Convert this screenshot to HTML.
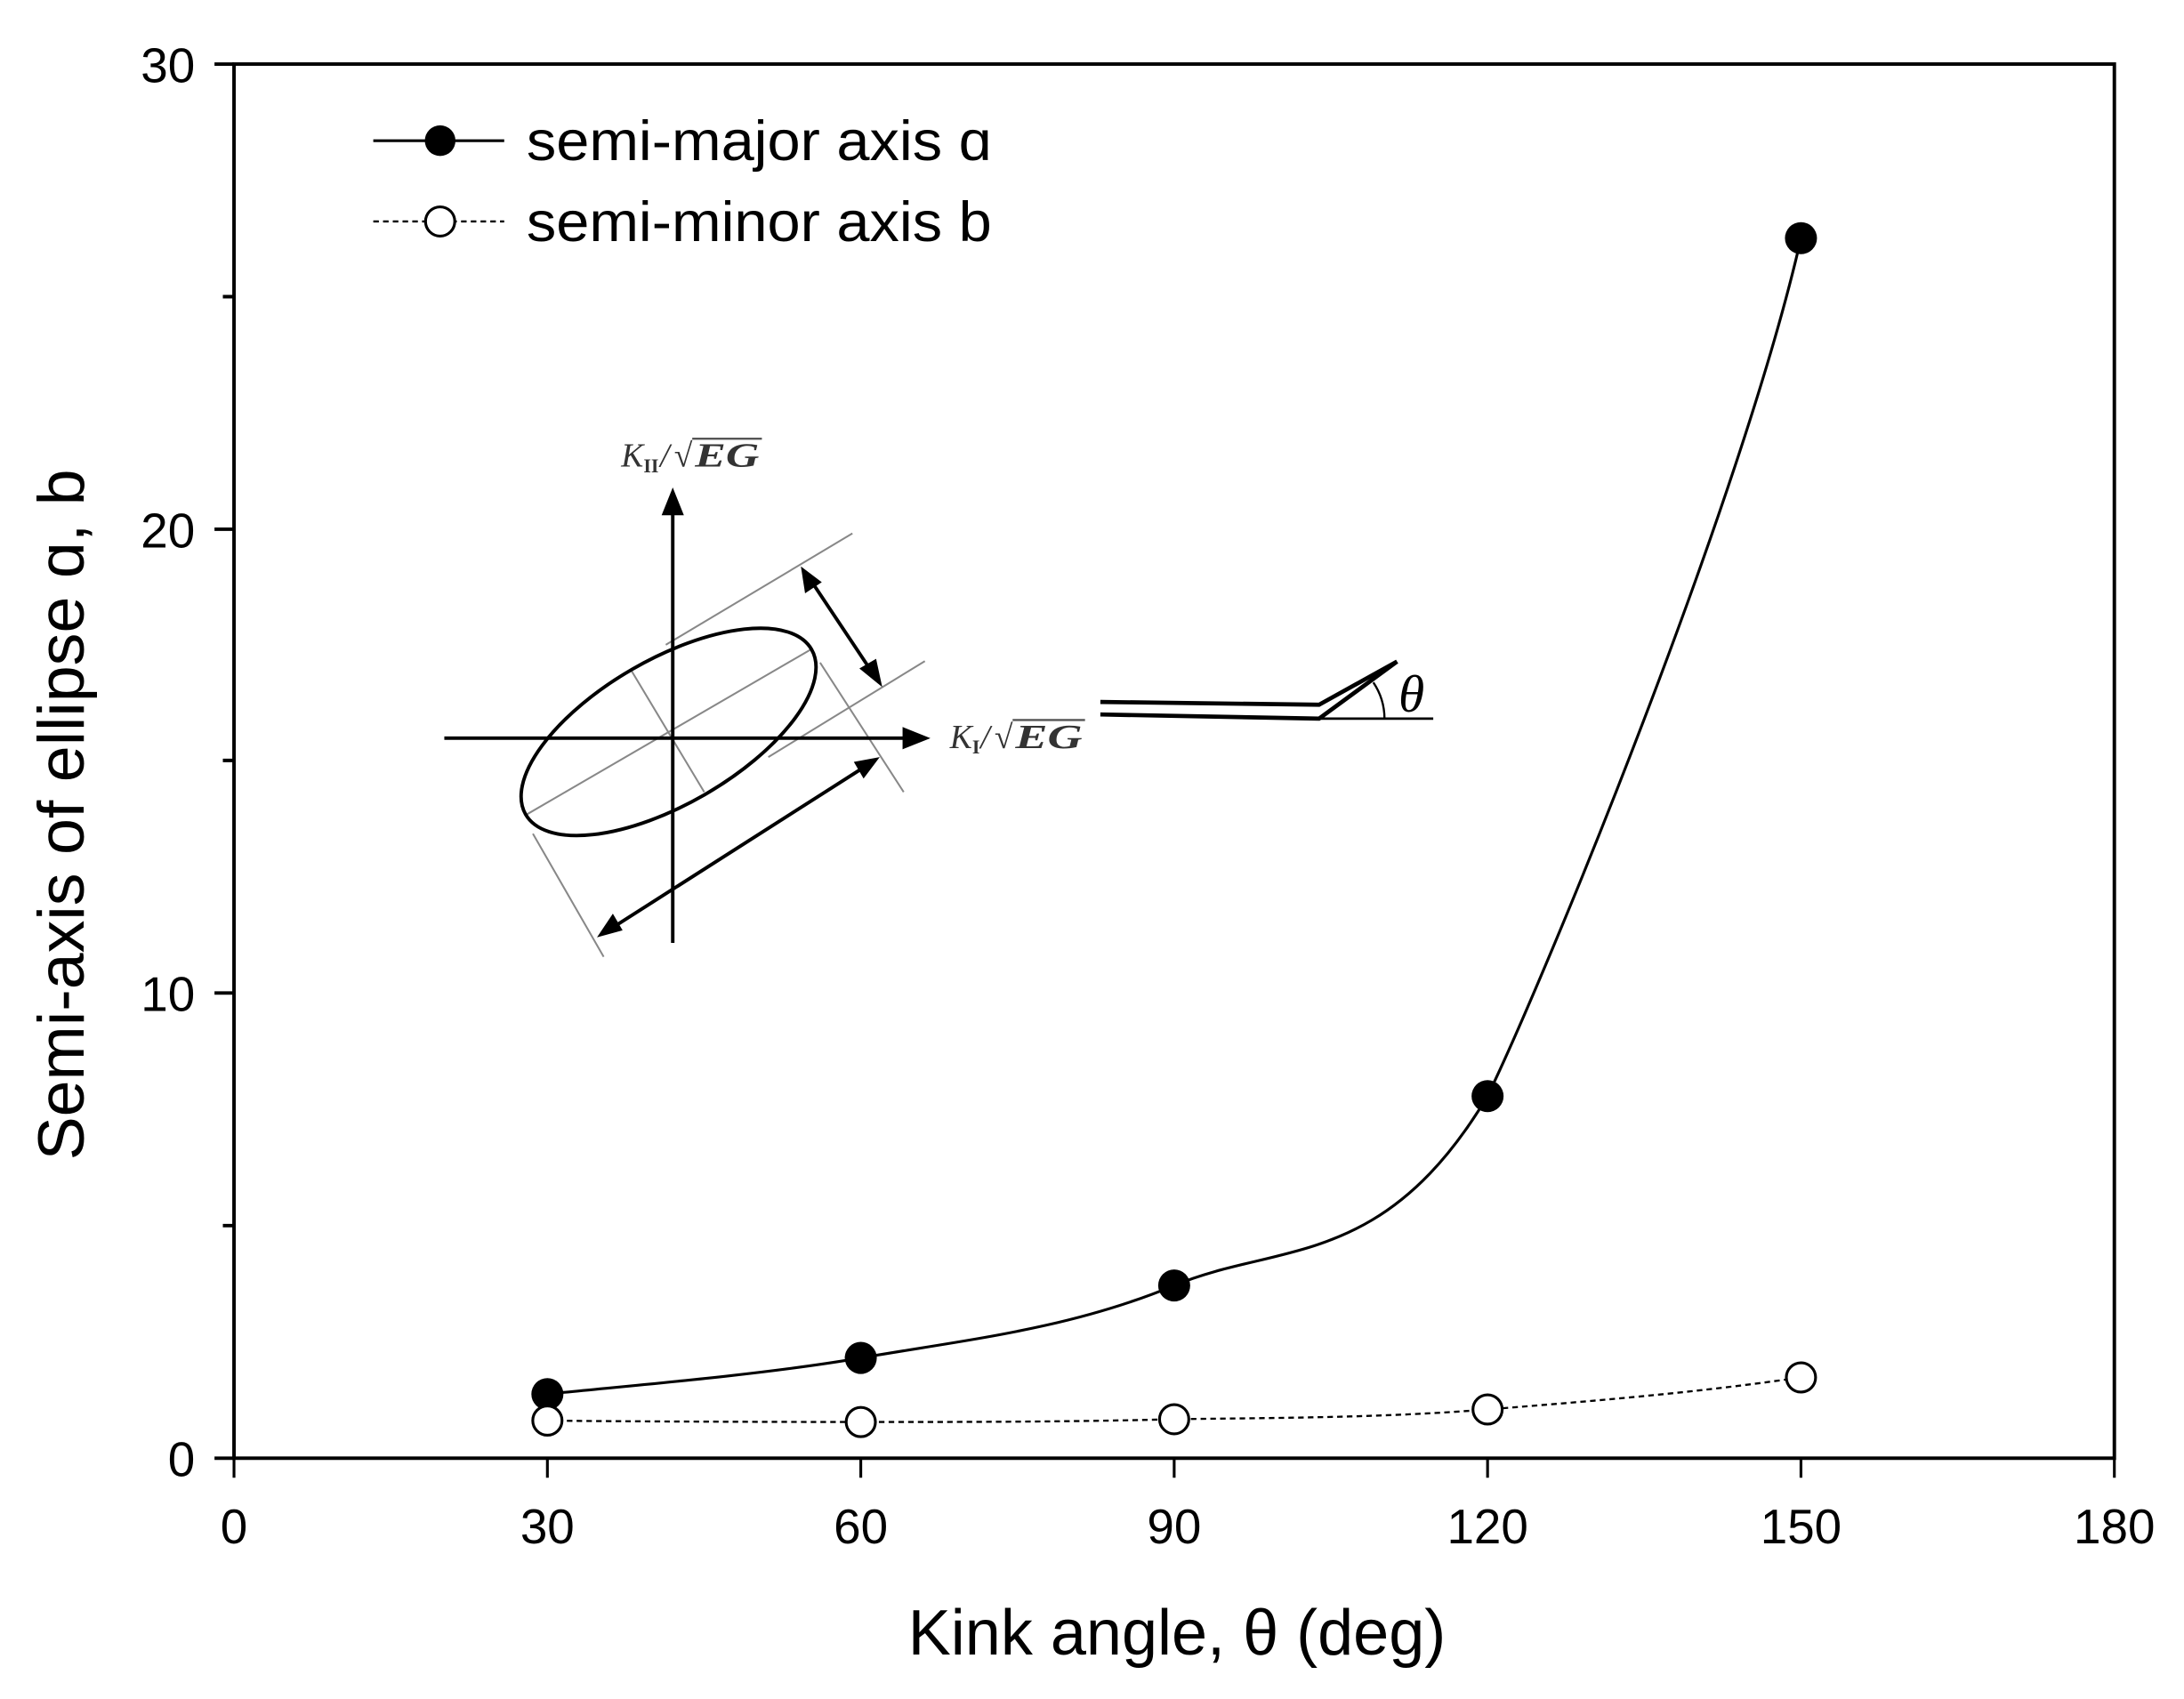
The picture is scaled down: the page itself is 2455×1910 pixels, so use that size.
<!DOCTYPE html>
<html><head><meta charset="utf-8"><style>html,body{margin:0;padding:0;background:#fff}svg{display:block}</style></head>
<body>
<svg width="2455" height="1910" viewBox="0 0 1568 1219.9" preserveAspectRatio="none" xmlns="http://www.w3.org/2000/svg" font-family="Liberation Sans, sans-serif">
<rect width="1568" height="1220" fill="#fff"/>
<g stroke="#000" fill="none">
<rect x="168" y="46" width="1350" height="1001" stroke-width="2.5"/>
<path d="M168 1047h-14M168 713h-14M168 380h-14M168 46h-14M168 880h-8M168 546h-8M168 213h-8" stroke-width="2.5"/>
<path d="M168 1047v14M393 1047v14M618 1047v14M843 1047v14M1068 1047v14M1293 1047v14M1518 1047v14" stroke-width="2"/>
</g>
<g font-size="35" text-anchor="end">
<text x="140" y="1060">0</text><text x="140" y="726">10</text><text x="140" y="393">20</text><text x="140" y="59">30</text>
</g>
<g font-size="35" text-anchor="middle">
<text x="168" y="1108">0</text><text x="393" y="1108">30</text><text x="618" y="1108">60</text><text x="843" y="1108">90</text><text x="1068" y="1108">120</text><text x="1293" y="1108">150</text><text x="1518" y="1108">180</text>
</g>
<text x="845" y="1188" font-size="46" text-anchor="middle">Kink angle, θ (deg)</text>
<text transform="translate(60,585) rotate(-90)" font-size="47" text-anchor="middle">Semi-axis of ellipse ɑ, b</text>
<path d="M268 101H362" stroke="#000" stroke-width="2"/>
<circle cx="316" cy="101" r="11" fill="#000"/>
<text x="378" y="115" font-size="40" textLength="334" lengthAdjust="spacingAndGlyphs">semi-major axis ɑ</text>
<path d="M268 159H362" stroke="#000" stroke-width="1.5" stroke-dasharray="4 3"/>
<circle cx="316" cy="159" r="10.5" fill="#fff" stroke="#000" stroke-width="2"/>
<text x="378" y="173" font-size="40" textLength="334" lengthAdjust="spacingAndGlyphs">semi-minor axis b</text>
<path d="M393 1001C430.5 996.7 543 988 618 975C693 962 768 954.3 843 923C918 891.7 993 912.3 1068 787C1110 700 1250 360 1293 171" fill="none" stroke="#000" stroke-width="2"/>
<path d="M393 1020C430 1020.5 543 1021 618 1021C693 1021 768 1021 843 1019C918 1018 993 1018 1068 1012C1143 1006 1218 1000 1293 989" fill="none" stroke="#000" stroke-width="1.5" stroke-dasharray="4 3"/>
<g fill="#000">
<circle cx="393" cy="1001" r="11.5"/><circle cx="618" cy="975" r="11.5"/><circle cx="843" cy="923" r="11.5"/><circle cx="1068" cy="787" r="11.5"/><circle cx="1293" cy="171" r="11.5"/>
</g>
<g fill="#fff" stroke="#000" stroke-width="2">
<circle cx="393" cy="1020" r="10.5"/><circle cx="618" cy="1021" r="10.5"/><circle cx="843" cy="1019" r="10.5"/><circle cx="1068" cy="1012" r="10.5"/><circle cx="1293" cy="989" r="10.5"/>
</g>
<g stroke="#888" stroke-width="1.3" fill="none">
<path d="M377.8 585L582.7 466"/>
<path d="M453 481L505.6 568.7"/>
<path d="M478 463L612 383"/>
<path d="M551.6 543.6L664 474.7"/>
<path d="M382.6 598.6L433.4 687"/>
<path d="M588.8 475.8L648.8 568.7"/>
</g>
<ellipse cx="480" cy="525.5" rx="118.5" ry="52" transform="rotate(-30 480 525.5)" fill="none" stroke="#000" stroke-width="2.5"/>
<g stroke="#000" stroke-width="2.5">
<path d="M483 677V368"/><path d="M319 530H650"/>
<path d="M585 421L623 478"/><path d="M443 664L617 553"/>
</g>
<g fill="#000">
<path d="M483 350L475 370H491Z"/>
<path d="M668 530L648 522V538Z"/>
<path d="M575 406.7L578 426L590 418Z"/>
<path d="M633.4 493.3L617 480L629 473Z"/>
<path d="M428.6 673L440 656L447 668Z"/>
<path d="M631.6 543.6L613 547L620 559Z"/>
</g>
<g font-family="Liberation Serif, serif" font-style="italic" fill="#333" font-size="24">
<text x="446" y="335">K</text><text x="462" y="339" font-size="14" font-style="normal" font-weight="bold">II</text><text x="474" y="335">/</text><text x="484" y="335" font-style="normal">√</text><text x="499" y="335" textLength="46" lengthAdjust="spacingAndGlyphs" font-weight="bold">EG</text>
<text x="682" y="537">K</text><text x="698" y="541" font-size="14" font-style="normal" font-weight="bold">I</text><text x="704" y="537">/</text><text x="714" y="537" font-style="normal">√</text><text x="729" y="537" textLength="48" lengthAdjust="spacingAndGlyphs" font-weight="bold">EG</text>
</g>
<path d="M497 315H547M727 517H779" stroke="#555" stroke-width="1.5"/>
<g stroke="#000" stroke-width="3" fill="none">
<path d="M790 504L947 506L1003 475"/>
<path d="M790 513L947 516L1003 475"/>
</g>
<path d="M947 516H1029" stroke="#000" stroke-width="1.8"/>
<path d="M994 516A47 47 0 0 0 986 490" stroke="#000" stroke-width="1.5" fill="none"/>
<text x="1004" y="511" font-family="Liberation Serif, serif" font-style="italic" font-size="38">θ</text>
</svg>
</body></html>
